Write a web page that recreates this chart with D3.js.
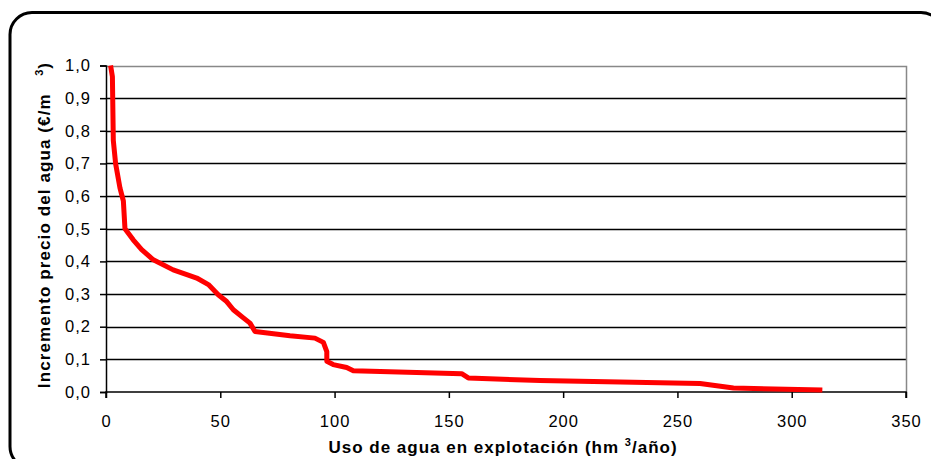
<!DOCTYPE html>
<html><head><meta charset="utf-8">
<script src="https://cdn.jsdelivr.net/npm/d3@7"></script>
<style>body{margin:0;background:#fff}svg{display:block;font-family:"Liberation Sans",Arial,sans-serif}</style>
</head><body>
<svg id="c" width="931" height="459"></svg>
<script>
const usoAgua = [2.0,2.8,3.2,4.2,6.1,7.6,8.3,11.9,15.6,20.7,29.4,36,39.7,44.8,49.1,52.8,55.7,60.1,63,65.2,80.5,91.4,95.1,96.6,96.6,99.4,105.3,108.2,155.6,158.5,189.9,224.9,259.9,274.5,313.4];
const incremento = [1.0,0.966,0.77,0.70,0.625,0.585,0.50,0.466,0.436,0.405,0.374,0.358,0.349,0.329,0.298,0.277,0.252,0.227,0.211,0.185,0.172,0.165,0.152,0.124,0.094,0.084,0.075,0.065,0.056,0.043,0.035,0.031,0.026,0.012,0.006];
const xTicks = [0,50,100,150,200,250,300,350];
const yTicks = [0,0.1,0.2,0.3,0.4,0.5,0.6,0.7,0.8,0.9,1.0];

const svg = d3.select("#c");
// outer rounded frame
svg.append("rect").attr("x",10).attr("y",12.5).attr("width",933).attr("height",456)
  .attr("rx",22).attr("ry",22).attr("fill","#fff").attr("stroke","#000").attr("stroke-width",3);

const x = d3.scaleLinear().domain([0,350]).range([106,906]);
const y = d3.scaleLinear().domain([0,1]).range([392,65.5]);

// gridlines
svg.append("g").selectAll("line").data(yTicks.filter(d=>d>0 && d<1)).join("line")
  .attr("x1",x(0)).attr("x2",x(350)).attr("y1",d=>Math.round(y(d))+0.5).attr("y2",d=>Math.round(y(d))+0.5)
  .attr("stroke","#000").attr("stroke-width",1.4);
// plot border top/right gray
svg.append("path").attr("d",`M${x(0)},${Math.round(y(1))+0.5}H${x(350)+0.5}V${y(0)}`)
  .attr("fill","none").attr("stroke","#888").attr("stroke-width",1.5);

const fmt = d => d3.format(".1f")(d).replace(".",",");
const yAxis = svg.append("g").attr("transform",`translate(${x(0)},0)`)
  .call(d3.axisLeft(y).tickValues(yTicks).tickFormat(fmt).tickSize(6).tickPadding(9));
const xAxis = svg.append("g").attr("transform",`translate(0,${y(0)})`)
  .call(d3.axisBottom(x).tickValues(xTicks).tickFormat(d3.format("d")).tickSize(6).tickPadding(17));
[yAxis,xAxis].forEach(g=>{
  g.select(".domain").attr("stroke","#000").attr("stroke-width",1.5);
  g.selectAll(".tick line").attr("stroke","#000").attr("stroke-width",1.5);
  g.selectAll(".tick text").attr("fill","#000").attr("font-size",16.5).attr("letter-spacing","1px")
   .attr("font-family","'Liberation Sans',Arial,sans-serif");
});
xAxis.select(".domain").attr("d",`M${x(0)},6V0H${x(350)}V6`);

// curve
const pts = usoAgua.map((v,i)=>[v,incremento[i]]);
svg.append("path").datum(pts).attr("fill","none").attr("stroke","#ff0000").attr("stroke-width",5)
  .attr("stroke-linejoin","round")
  .attr("d",d3.line().x(d=>x(d[0])).y(d=>y(d[1])));

// axis titles
const xt = svg.append("text").attr("x",503).attr("y",453).attr("text-anchor","middle")
  .attr("font-size",17).attr("font-weight","bold").attr("letter-spacing","1px");
xt.append("tspan").text("Uso de agua en explotación (hm ");
xt.append("tspan").attr("font-size",11).attr("dy",-7).text("3");
xt.append("tspan").attr("dy",7).text("/año)");

const yt = svg.append("text").attr("transform","translate(50,225) rotate(-90)").attr("text-anchor","middle")
  .attr("font-size",17).attr("font-weight","bold").attr("letter-spacing","1.1px");
yt.append("tspan").text("Incremento precio del agua (€/m\u00a0\u00a0\u00a0");
yt.append("tspan").attr("font-size",11).attr("dy",-7).text("3");
yt.append("tspan").attr("dy",7).text(")");
</script>
</body></html>
